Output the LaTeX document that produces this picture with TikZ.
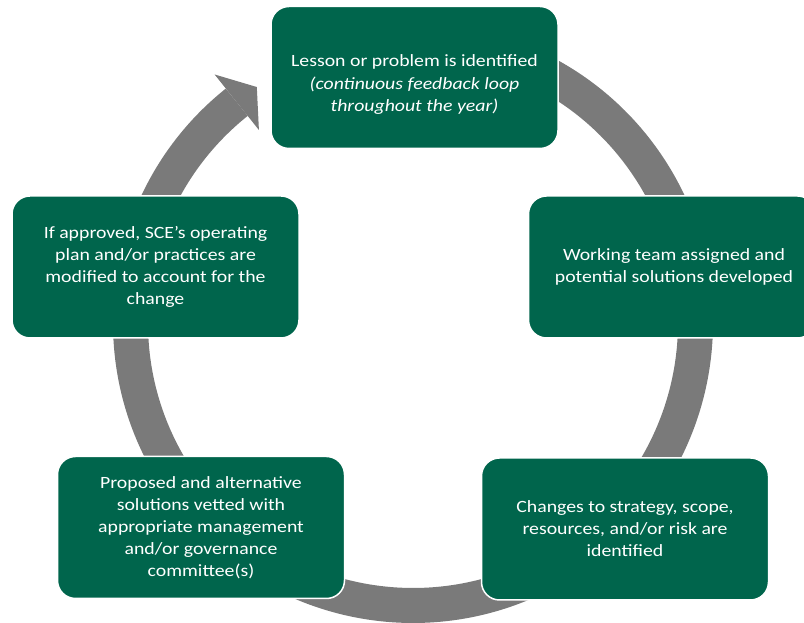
\documentclass[tikz,border=0pt]{standalone}
\usepackage{fontspec}
\setmainfont{Carlito}[FakeStretch=1.15]
\usetikzlibrary{calc}
\definecolor{boxgreen}{RGB}{0,101,76}
\definecolor{ringgray}{RGB}{122,122,122}
\tikzset{
  stepbox/.style={rectangle, rounded corners=18pt, fill=boxgreen, draw=white,
    line width=1.5pt, minimum width=287pt, minimum height=142pt, inner sep=0pt},
  steptext/.style={text=white, align=center, font=\fontsize{17.2}{22}\selectfont, inner sep=0pt},
}
\begin{document}
\begin{tikzpicture}[x=1pt,y=1pt]
\useasboundingbox (0,0) rectangle (804,623);
\coordinate (c) at (413,300);
% ring
\draw[ringgray, line width=35pt] (c) ++(128.6:282.5) arc[start angle=128.6, end angle=440, radius=282.5];
\fill[ringgray] ($(c)+(128.6:318)$) -- ($(c)+(123.5:283)$) -- ($(c)+(128.6:247)$) -- cycle;
% boxes
\node[stepbox] (b1) at (414.5,545.5) {};
\node[stepbox] (b2) at (672,356) {};
\node[stepbox] (b3) at (625,94) {};
\node[stepbox] (b4) at (201,95.5) {};
\node[stepbox] (b5) at (155.5,356) {};
% texts
\node[steptext] (t1) at (414.5,538.5) {Lesson or problem is identified\\[1pt] \textit{(continuous feedback loop}\\ \textit{throughout the year)}};
\node[steptext] (t2) at (674,356) {Working team assigned and\\ potential solutions developed};
\node[steptext] (t3) at (625,94) {Changes to strategy, scope,\\ resources, and/or risk are\\ identified};
\node[steptext] (t4) at (201,95.5) {Proposed and alternative\\ solutions vetted with\\ appropriate management\\ and/or governance\\ committee(s)};
\node[steptext] (t5) at (155.5,356) {If approved, SCE’s operating\\ plan and/or practices are\\ modified to account for the\\ change};
\end{tikzpicture}
\end{document}
